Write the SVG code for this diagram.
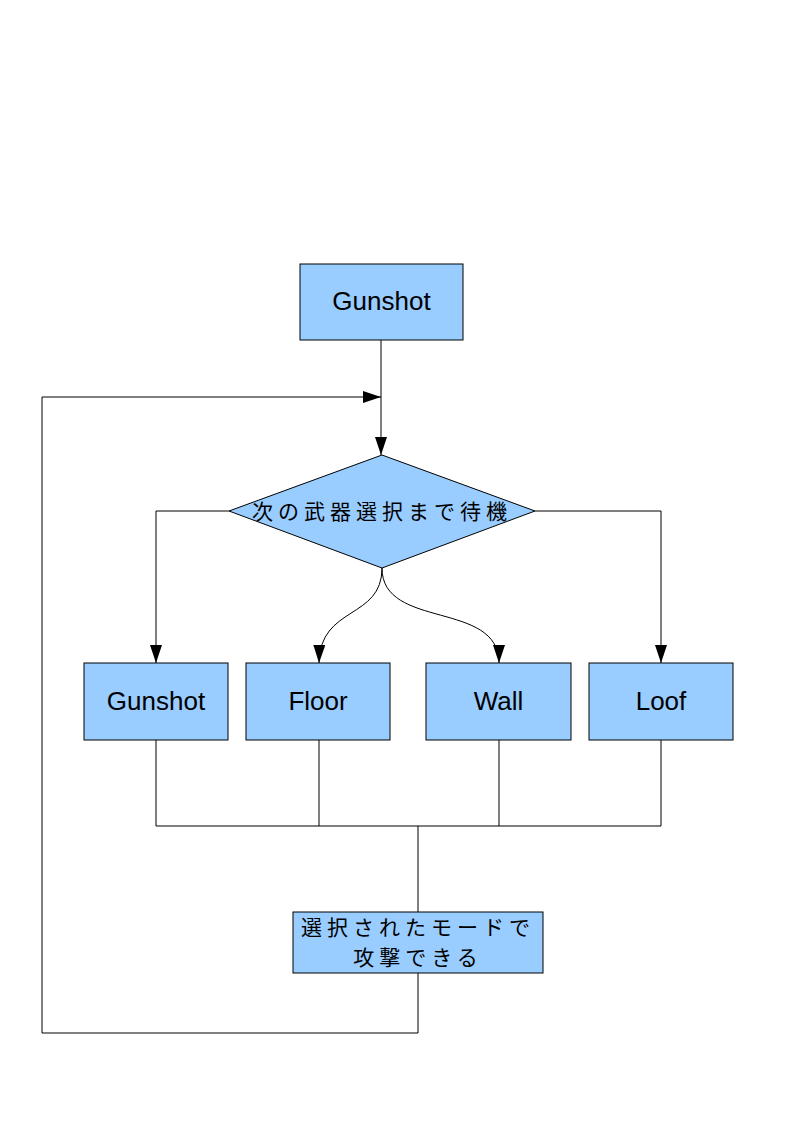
<svg xmlns="http://www.w3.org/2000/svg" width="794" height="1123" viewBox="0 0 794 1123">
<style>
.box{fill:#99ccff;stroke:#000;stroke-width:1}
.lbl{font-family:"Liberation Sans",Arial,sans-serif;font-size:26px;fill:#000;text-anchor:middle}
.jp{font-family:"Noto Sans CJK JP",sans-serif;font-size:21px;fill:#000;text-anchor:middle;letter-spacing:5px}
.ln{fill:none;stroke:#000;stroke-width:1}
</style>
<defs>
<marker id="ah" viewBox="0 0 18 12" refX="18" refY="6" markerWidth="18" markerHeight="12" markerUnits="userSpaceOnUse" orient="auto">
<path d="M0,0 L18,6 L0,12 Z" fill="#000"/>
</marker>
</defs>
<rect width="794" height="1123" fill="#fff"/>
<g id="connectors">
<path class="ln" d="M381,340 V455" marker-end="url(#ah)"/>
<path class="ln" d="M418,973 V1033 H42 V397 H381" marker-end="url(#ah)"/>
<path class="ln" d="M229,511 H156 V663" marker-end="url(#ah)"/>
<path class="ln" d="M535,511 H661 V663" marker-end="url(#ah)"/>
<path class="ln" d="M382,568 C382,620 320,605 319,663" marker-end="url(#ah)"/>
<path class="ln" d="M382,568 C382,630 499,600 499,663" marker-end="url(#ah)"/>
<path class="ln" d="M156,740 V826 M319,740 V826 M499,740 V826 M661,740 V826 M156,826 H661 M418,826 V912"/>
</g>
<g id="start">
<rect class="box" x="300" y="264" width="163" height="76"/>
<text class="lbl" x="381.5" y="310">Gunshot</text>
</g>
<g id="wait">
<polygon class="box" points="382,455 535,511 382,568 229,511"/>
<text class="jp" x="382" y="519">次の武器選択まで待機</text>
</g>
<g id="gunshot">
<rect class="box" x="84" y="663" width="144" height="77"/>
<text class="lbl" x="156" y="710">Gunshot</text>
</g>
<g id="floor">
<rect class="box" x="246" y="663" width="144" height="77"/>
<text class="lbl" x="318" y="710">Floor</text>
</g>
<g id="wall">
<rect class="box" x="426" y="663" width="145" height="77"/>
<text class="lbl" x="498.5" y="710">Wall</text>
</g>
<g id="loof">
<rect class="box" x="589" y="663" width="144" height="77"/>
<text class="lbl" x="661" y="710">Loof</text>
</g>
<g id="attack">
<rect class="box" x="293" y="912" width="250" height="61"/>
<text class="jp" x="418" y="935">選択されたモードで</text>
<text class="jp" x="418" y="965">攻撃できる</text>
</g>
</svg>
